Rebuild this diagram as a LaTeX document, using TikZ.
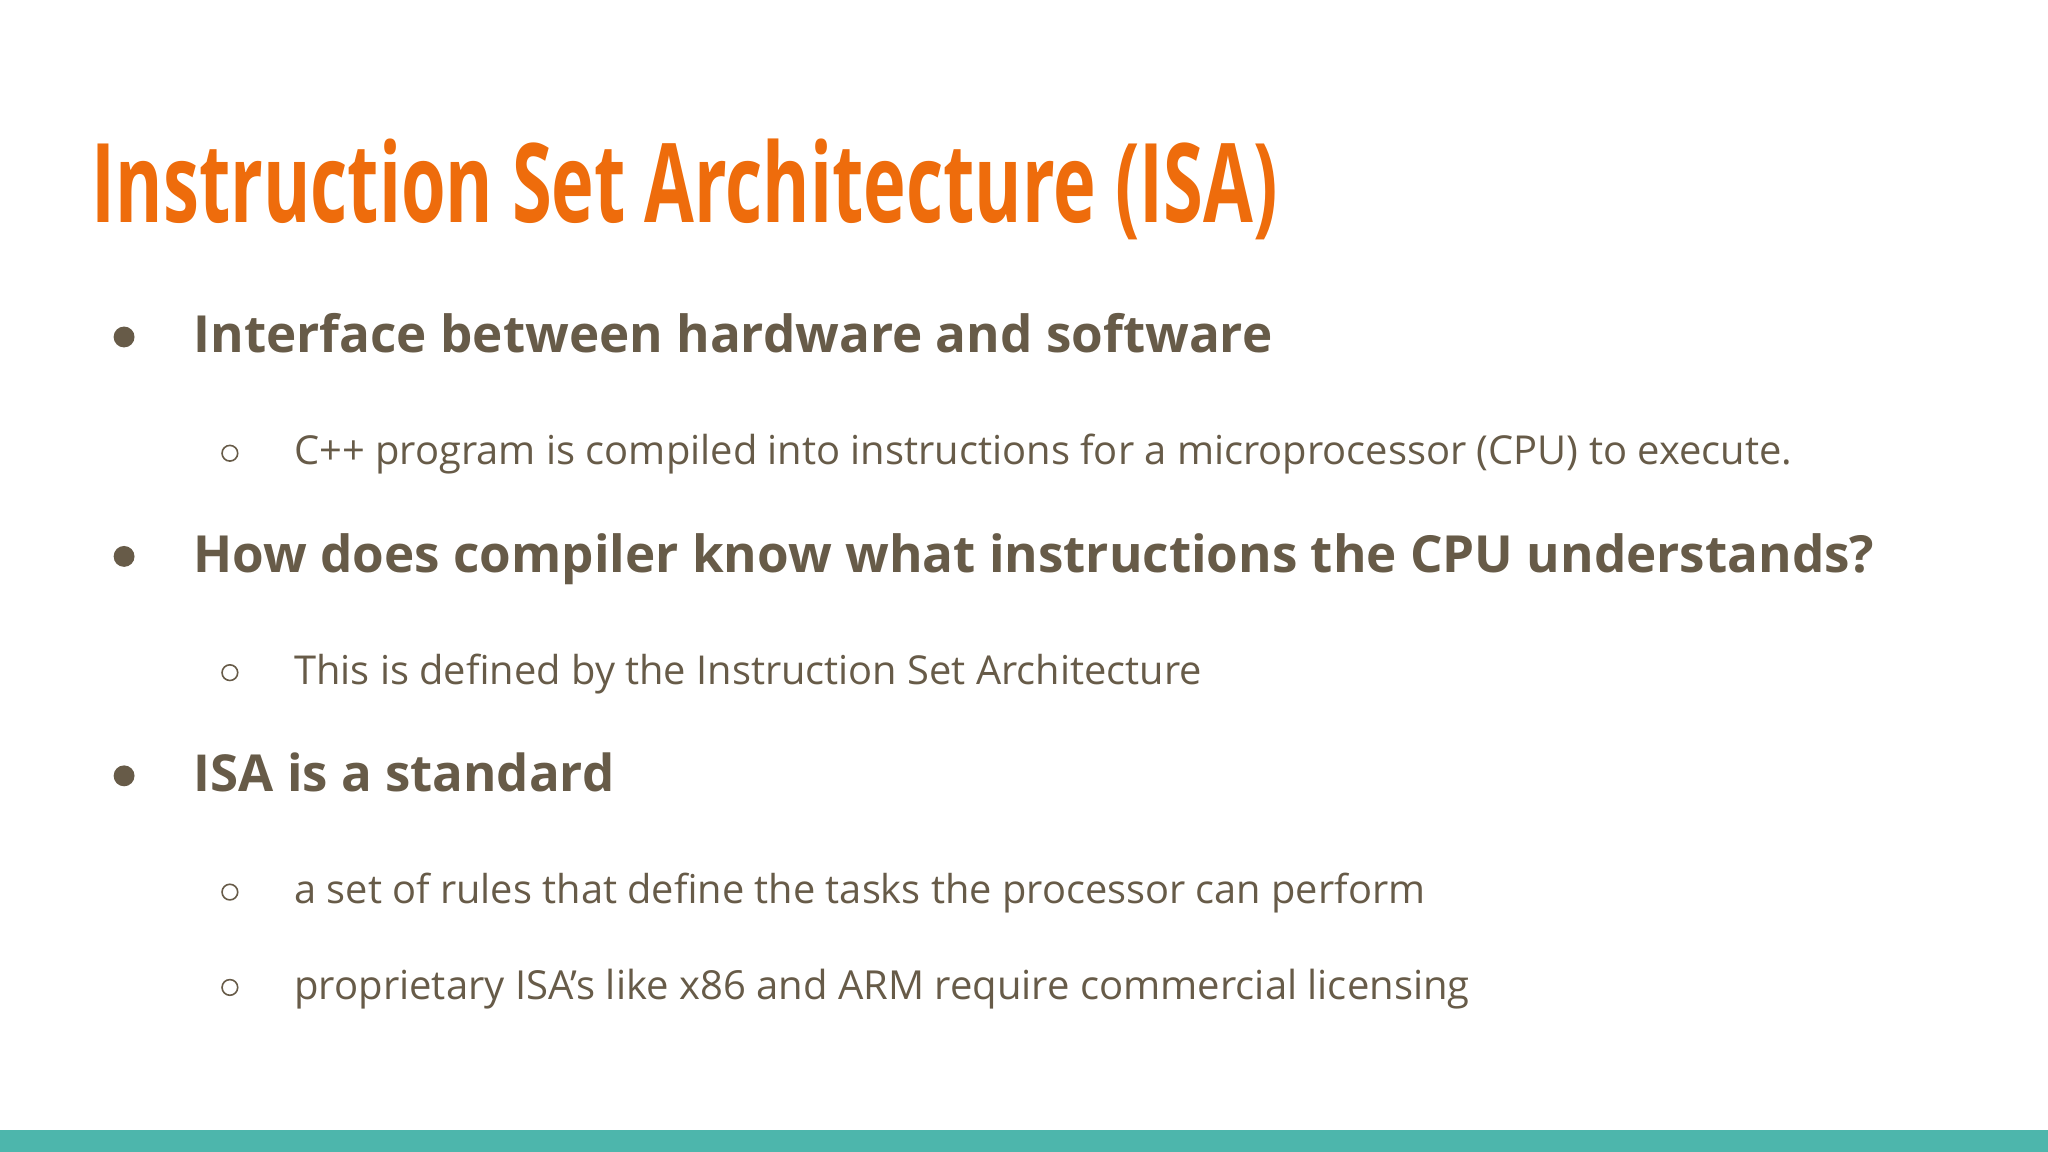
\documentclass[tikz,border=0pt]{standalone}
\usepackage{fontspec}
\setmainfont{Open Sans}
\definecolor{ttl}{HTML}{EE6C0C}
\definecolor{txt}{HTML}{675B48}
\definecolor{bar}{HTML}{4DB6AC}
\begin{document}
\begin{tikzpicture}[x=0.02cm,y=-0.02cm,
  lbl/.style={anchor=base west,inner sep=0pt,text=txt},
  dot/.style={fill=txt},
  ring/.style={draw=txt,line width=0.7pt}]
\useasboundingbox (0,0) rectangle (1568,882);
\fill[white] (0,0) rectangle (1568,882);
\fill[bar] (0,865) rectangle (1568,882);
\node[anchor=base west,inner sep=0pt,text=ttl] (title) at (70,170) {\resizebox{18.16cm}{1.28cm}{\fontsize{50}{60}\selectfont\bfseries Instruction Set Architecture (ISA)}};
\node[lbl] (b1) at (148,270) {\resizebox{16.52cm}{!}{\bfseries Interface between hardware and software}};
\node[lbl] (s1) at (225,356) {\resizebox{22.94cm}{!}{C++ program is compiled into instructions for a microprocessor (CPU) to execute.}};
\node[lbl] (b2) at (148,438) {\resizebox{25.74cm}{!}{\bfseries How does compiler know what instructions the CPU understands?}};
\node[lbl] (s2) at (225,524) {\resizebox{13.9cm}{!}{This is defined by the Instruction Set Architecture}};
\node[lbl] (b3) at (148,606) {\resizebox{6.44cm}{!}{\bfseries ISA is a standard}};
\node[lbl] (s3) at (225,692) {\resizebox{17.32cm}{!}{a set of rules that define the tasks the processor can perform}};
\node[lbl] (s4) at (225,765) {\resizebox{18.0cm}{!}{proprietary ISA’s like x86 and ARM require commercial licensing}};
\foreach \y in {258,426,594} \fill[dot] (95,\y) circle (8);
\foreach \y in {347,515,683,756} \draw[ring] (176,\y) circle (6);
\end{tikzpicture}
\end{document}
